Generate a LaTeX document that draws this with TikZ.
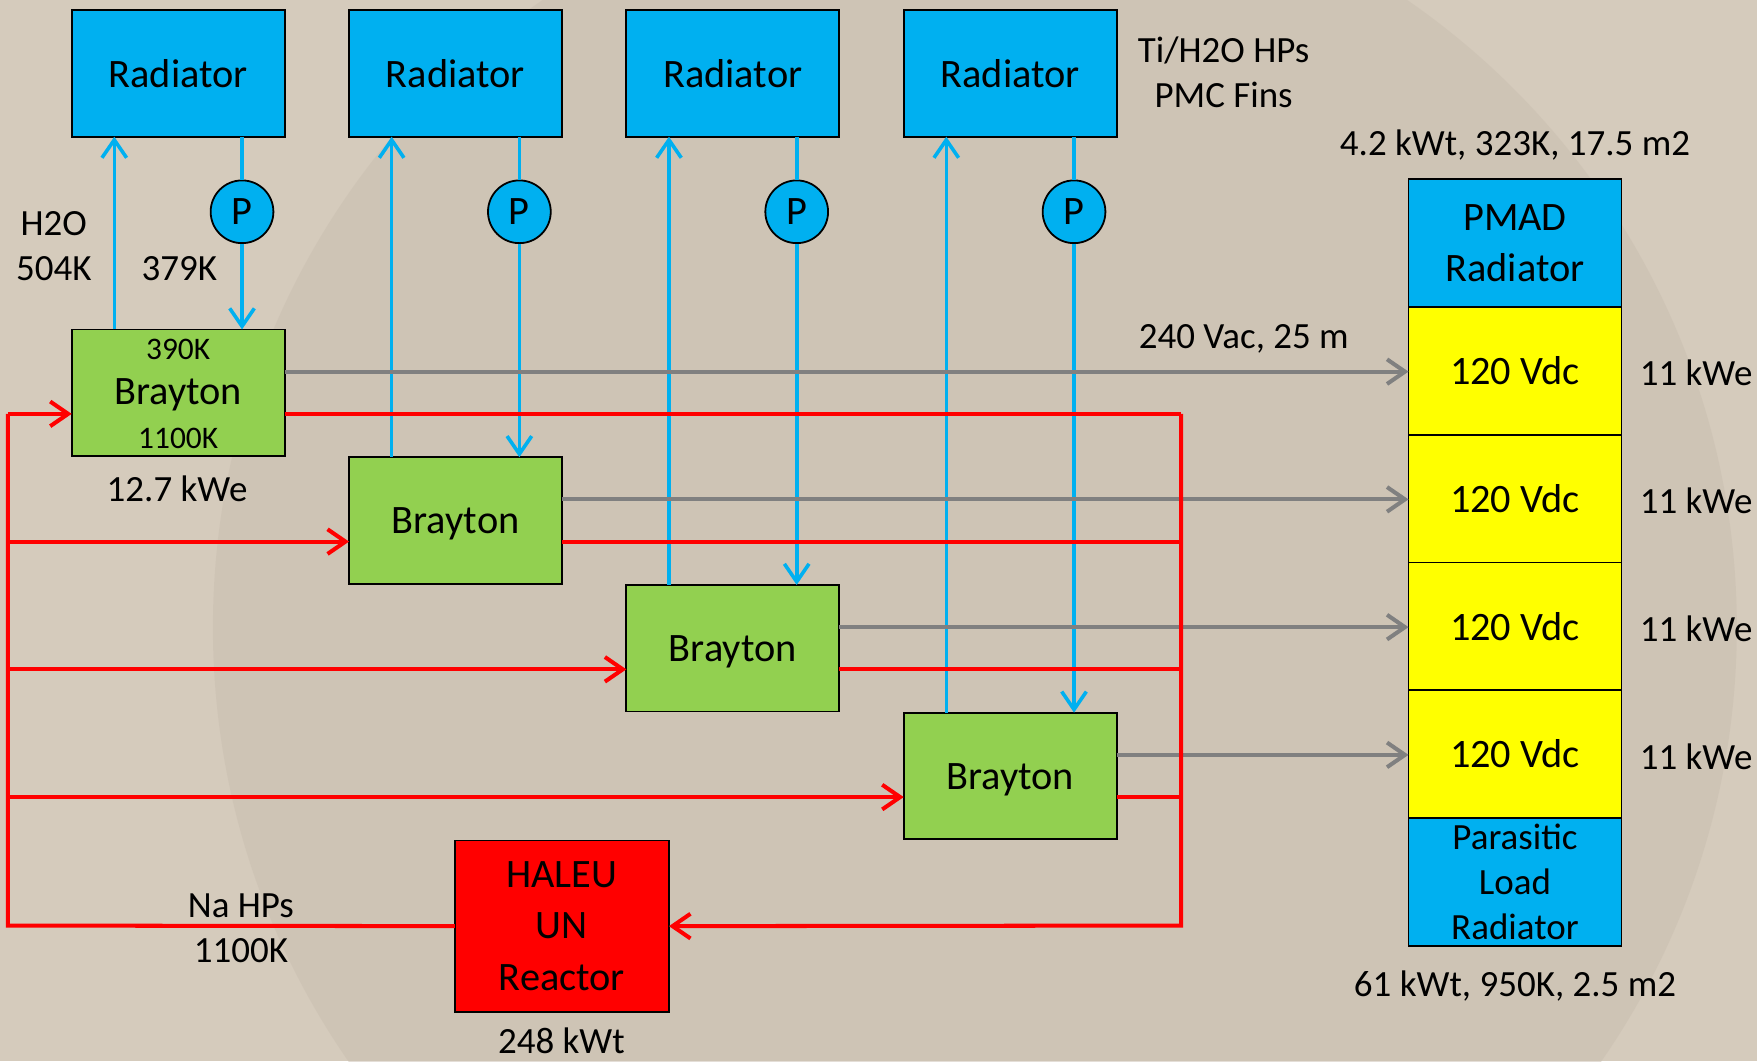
\documentclass[tikz,border=0pt]{standalone}
\usepackage{fontspec}
\setmainfont{Carlito}
\usetikzlibrary{arrows.meta,positioning,calc}

\definecolor{radblue}{HTML}{00B0F0}
\definecolor{braygreen}{HTML}{92D050}
\definecolor{busyellow}{HTML}{FFFF00}
\definecolor{hotred}{HTML}{FF0000}
\definecolor{wiregray}{HTML}{808080}
\definecolor{bgbeige}{HTML}{D5CBBC}
\definecolor{moonshade}{HTML}{C9BEB0}

\tikzset{
  block/.style={draw=black, line width=0.8pt, inner sep=0pt, outer sep=0pt, align=center,
    minimum width=95pt, minimum height=56.5pt, font=\fontsize{18}{23}\selectfont},
  radiator/.style={block, fill=radblue},
  brayton/.style={block, fill=braygreen},
  busbox/.style={block, fill=busyellow, minimum height=57pt},
  pump/.style={circle, draw=black, line width=0.8pt, fill=radblue,
    minimum size=28pt, inner sep=0pt, font=\fontsize{18}{21}\selectfont},
  lbl/.style={inner sep=0pt, font=\fontsize{16.5}{20}\selectfont},
  smalllbl/.style={inner sep=0pt, font=\fontsize{14}{17}\selectfont},
  coolant/.style={radblue, line width=1.6pt},
  hotleg/.style={hotred, line width=1.8pt},
  power/.style={wiregray, line width=1.8pt},
}

\begin{document}
\begin{tikzpicture}[x=0.5pt, y=-0.5pt, >={Straight Barb[length=8pt,width=11pt]}]
  % Background
  \fill[bgbeige] (0,0) rectangle (1568,947);
  \begin{scope}
    \clip (0,0) rectangle (1568,947);
    \fill[moonshade, opacity=0.5] (870,560) circle (680);
  \end{scope}

  % Radiators, pumps and Brayton units
  \foreach \i/\x/\y in {1/64/294, 2/311.5/408, 3/559/522, 4/806.5/636} {
    \node[radiator, anchor=north west] (rad\i) at (\x,9) {Radiator};
    \node[brayton, anchor=north west] (bray\i) at (\x,\y) {};
    \node[pump] (pump\i) at (\x+152,189) {P};
    \coordinate (hin\i) at ($(bray\i.north west)!2/3!(bray\i.south west)$);
    \coordinate (hout\i) at ($(bray\i.north east)!2/3!(bray\i.south east)$);
    \coordinate (pout\i) at ($(bray\i.north east)!1/3!(bray\i.south east)$);
    % Cooling loop
    \draw[coolant, ->] ([xshift=19pt]bray\i.north west) -- ([xshift=19pt]rad\i.south west);
    \draw[coolant] ([xshift=76pt]rad\i.south west) -- (pump\i);
    \draw[coolant, ->] (pump\i) -- ([xshift=76pt]bray\i.north west);
  }
  \node[block, draw=none, minimum width=0pt, minimum height=0pt] (b2name) at ($(bray2)+(0,3)$) {Brayton};
  \node[block, draw=none, minimum width=0pt, minimum height=0pt] (b3name) at ($(bray3)+(0,3)$) {Brayton};
  \node[block, draw=none, minimum width=0pt, minimum height=0pt] (b4name) at ($(bray4)+(0,3)$) {Brayton};
  \node[block, draw=none, minimum width=0pt, minimum height=0pt] (b1name) at (159,352) {Brayton};
  \node[smalllbl] (b1cold) at (159,312) {390K};
  \node[smalllbl] (b1hot) at (159,391) {1100K};

  % PMAD stack
  \node[radiator, minimum height=57pt, anchor=north west] (pmad) at (1257,160) {PMAD\\Radiator};
  \node[busbox, anchor=north] (dc1) at (pmad.south) {120 Vdc};
  \node[busbox, anchor=north] (dc2) at (dc1.south) {120 Vdc};
  \node[busbox, anchor=north] (dc3) at (dc2.south) {120 Vdc};
  \node[busbox, anchor=north] (dc4) at (dc3.south) {120 Vdc};
  \node[radiator, minimum height=57pt, anchor=north,
    font=\fontsize{16.5}{20}\selectfont] (paras) at (dc4.south) {Parasitic\\Load\\Radiator};
  \foreach \i in {1,...,4} {
    \node[lbl, right=8pt of dc\i, yshift=-1pt] (kwe\i) {11 kWe};
    \draw[power, ->] (pout\i) -- (dc\i.west |- pout\i);
  }

  % Reactor
  \node[block, fill=hotred, minimum width=95.5pt, minimum height=76.5pt, anchor=north west]
    (reactor) at (406,750) {HALEU\\UN\\Reactor};

  % Na heat pipe loop
  \coordinate (lbus) at (7,826);
  \coordinate (rbus) at (1054,826);
  \draw[hotleg] (reactor.west) -- (lbus) -- (lbus |- hin1);
  \foreach \i in {1,...,4}
    \draw[hotleg, ->] (lbus |- hin\i) -- (hin\i);
  \foreach \i in {1,...,4}
    \draw[hotleg] (hout\i) -- (rbus |- hout\i);
  \draw[hotleg, ->] (rbus |- hout1) -- (rbus) -- (reactor.east);

  % Labels
  \node[lbl] (h2o) at (48,200) {H2O};
  \node[lbl] (t504) at (48,240) {504K};
  \node[lbl] (t379) at (160,240) {379K};
  \node[lbl] (b1kwe) at (158,436) {12.7 kWe};
  \node[lbl] (hps) at (1092,45) {Ti/H2O HPs};
  \node[lbl] (fins) at (1092,85) {PMC Fins};
  \node[lbl] (pmadspec) at (1352,129) {4.2 kWt, 323K, 17.5 m2};
  \node[lbl] (vac) at (1110,302) {240 Vac, 25 m};
  \node[lbl] (nahp) at (215,808) {Na HPs};
  \node[lbl] (natemp) at (215,848) {1100K};
  \node[lbl] (rkwt) at (501,929) {248 kWt};
  \node[lbl] (paraspec) at (1352,880) {61 kWt, 950K, 2.5 m2};
\end{tikzpicture}
\end{document}
